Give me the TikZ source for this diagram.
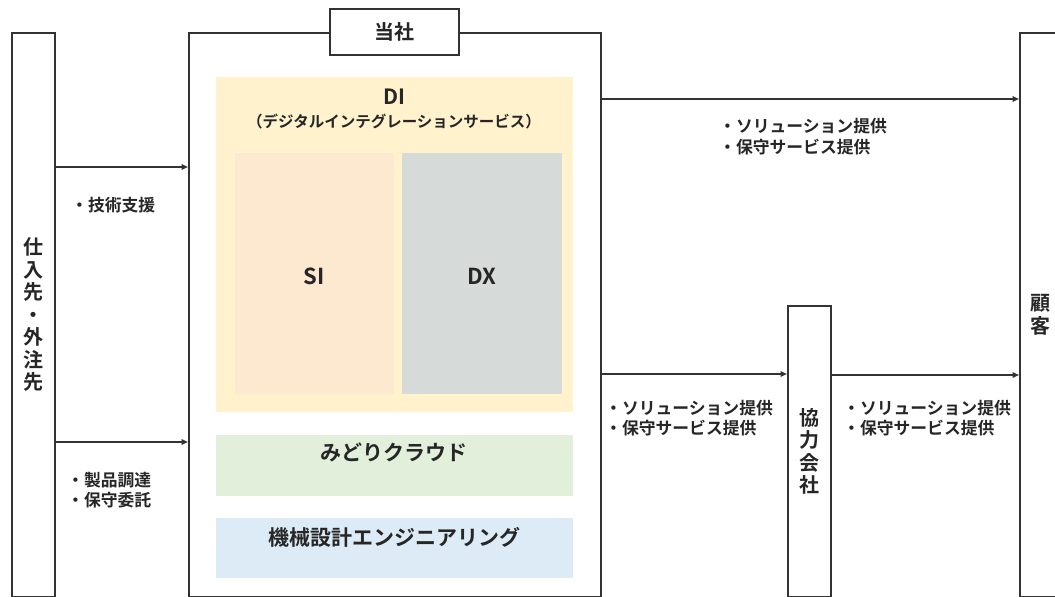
\documentclass[tikz,border=0pt]{standalone}
\usepackage{fontspec}
\setmainfont{Noto Sans CJK JP}[BoldFont={* Bold}]
\usetikzlibrary{arrows.meta}
\definecolor{ln}{HTML}{333333}
\definecolor{tx}{HTML}{262626}
\definecolor{diY}{HTML}{FFF2CC}
\definecolor{siC}{HTML}{FCE9CF}
\definecolor{dxC}{HTML}{D6DBDA}
\definecolor{grC}{HTML}{E2EFDA}
\definecolor{blC}{HTML}{DDEBF7}
\begin{document}
\begin{tikzpicture}[x=1pt,y=-1pt,
  box/.style={draw=ln, line width=1.7pt, fill=white, inner sep=0pt, anchor=north west,
    text=tx, font=\bfseries\fontsize{20}{22.5}\selectfont, align=center},
  area/.style={inner sep=0pt, anchor=north west, draw=none},
  lbl/.style={text=tx, font=\bfseries\fontsize{16.8}{20.5}\selectfont, align=left, inner sep=0pt, anchor=west},
  ttl/.style={text=tx, font=\bfseries\fontsize{21}{24}\selectfont, inner sep=0pt},
  arr/.style={draw=ln, line width=1.7pt, -{Triangle[length=6.5pt,width=5.5pt]}}]
\useasboundingbox (0,0) rectangle (1055,597);
\fill[white] (0,0) rectangle (1055,597);
% outer boxes
\node[box, minimum width=43pt, minimum height=564pt] (sup) at (11,32) {仕\\入\\先\\・\\外\\注\\先};
\node[box, minimum width=412pt, minimum height=564pt] (main) at (188,32) {};
\node[box, minimum width=129pt, minimum height=46pt] (tosha) at (329,8) {当社};
\node[box, minimum width=43pt, minimum height=291pt] (coop) at (787,305) {協\\力\\会\\社};
\node[box, minimum width=42pt, minimum height=564pt] (cust) at (1019,32) {顧\\客};
% inner areas
\node[area, fill=diY, minimum width=357pt, minimum height=335pt] (di) at (216,77) {};
\node[area, fill=siC, minimum width=159pt, minimum height=241pt] (si) at (235,153) {};
\node[area, fill=dxC, minimum width=160pt, minimum height=241pt] (dx) at (402,153) {};
\node[area, fill=grC, minimum width=357pt, minimum height=61pt] (gr) at (216,435) {};
\node[area, fill=blC, minimum width=357pt, minimum height=60pt] (bl) at (216,518) {};
% titles
\node[ttl] (dit) at (394,97) {DI};
\node[ttl, font=\bfseries\fontsize{15.5}{18}\selectfont] (dis) at (394,122) {（デジタルインテグレーションサービス）};
\node[ttl, font=\bfseries\fontsize{22}{24}\selectfont] (sit) at (314,276) {SI};
\node[ttl, font=\bfseries\fontsize{22}{24}\selectfont] (dxt) at (482,276) {DX};
\node[ttl] (grt) at (394,452) {みどりクラウド};
\node[ttl] (blt) at (394,537) {機械設計エンジニアリング};
% labels
\node[lbl] (l1) at (71,205) {・技術支援};
\node[lbl] (l2) at (67,490) {・製品調達\\・保守委託};
\node[lbl] (l3) at (719,136.5) {・ソリューション提供\\・保守サービス提供};
\node[lbl] (l4) at (605,418) {・ソリューション提供\\・保守サービス提供};
\node[lbl] (l5) at (843,418) {・ソリューション提供\\・保守サービス提供};
% connectors
\draw[arr] (sup.east |- 0,167) -- (main.west |- 0,167);
\draw[arr] (sup.east |- 0,442) -- (main.west |- 0,442);
\draw[arr] (main.east |- 0,99) -- (cust.west |- 0,99);
\draw[arr] (main.east |- 0,374) -- (coop.west |- 0,374);
\draw[arr] (coop.east |- 0,375) -- (cust.west |- 0,375);
\end{tikzpicture}
\end{document}
